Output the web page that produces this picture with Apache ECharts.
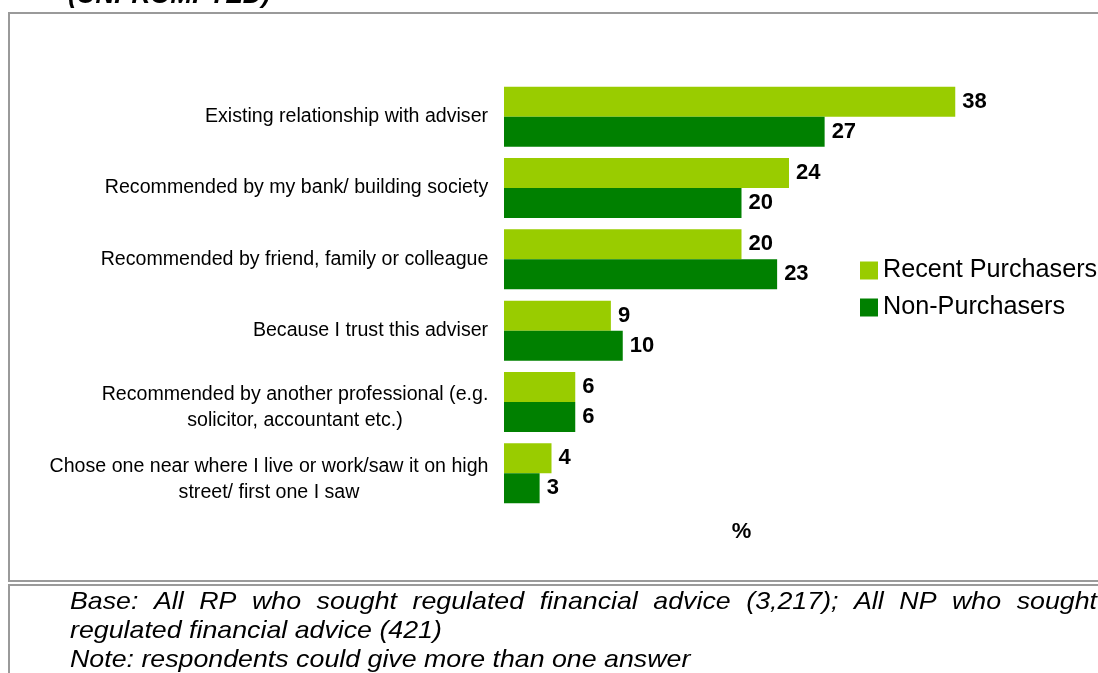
<!DOCTYPE html>
<html>
<head>
<meta charset="utf-8">
<script src="https://cdn.jsdelivr.net/npm/echarts@6/dist/echarts.min.js"></script>
<style>
  html, body { margin: 0; padding: 0; background: #ffffff; }
  #chart { width: 1098px; height: 673px; }
</style>
</head>
<body>
<div id="chart"></div>
<script>
// Reasons for choosing an adviser, % of respondents
const categories = [
  'Existing relationship with adviser',
  'Recommended by my bank/ building society',
  'Recommended by friend, family or colleague',
  'Because I trust this adviser',
  'Recommended by another professional (e.g.\nsolicitor, accountant etc.)',
  'Chose one near where I live or work/saw it on high\nstreet/ first one I saw'
];
const seriesNames = ['Recent Purchasers', 'Non-Purchasers'];
const recentPurchasers = [38, 24, 20, 9, 6, 4];
const nonPurchasers = [27, 20, 23, 10, 6, 3];

const titleText = '(UNPROMPTED)';
const footnoteLines = [
  'Base: All RP who sought regulated financial advice (3,217); All NP who sought',
  'regulated financial advice (421)',
  'Note: respondents could give more than one answer'
];

const FONT = '"Liberation Sans", Arial, sans-serif';
const LABEL_SIZE = 19.6;
const measureCtx = document.createElement('canvas').getContext('2d');
function textWidth(text, font) {
  measureCtx.font = font;
  return measureCtx.measureText(text).width;
}

// Each category label gets a fixed-width rich box so multi-line labels are
// centred line by line while the whole block stays right-aligned to the axis.
const labelRich = {
  // thin spacer line that nudges two-line labels slightly downward
  sp: { fontSize: 1, lineHeight: 12, color: 'rgba(0,0,0,0)' }
};
categories.forEach(function (c, i) {
  const w = Math.max.apply(null, c.split('\n').map(function (l) {
    return textWidth(l, LABEL_SIZE + 'px ' + FONT);
  }));
  labelRich['l' + i] = {
    width: Math.ceil(w) + 1,
    align: 'center',
    fontSize: LABEL_SIZE,
    fontFamily: FONT,
    color: '#000',
    lineHeight: 26
  };
});

// Footnote: first line justified across the box, the others left-aligned
const NOTE_SIZE = 24;
const NOTE_STRETCH = 1.115;
const noteFont = 'italic ' + NOTE_SIZE + 'px ' + FONT;
const noteLeft = 70, noteRight = 1097;
const noteTops = [590, 619, 648];
const noteGraphics = [];
(function () {
  const words = footnoteLines[0].split(' ');
  const widths = words.map(function (w) { return textWidth(w, noteFont) * NOTE_STRETCH; });
  const total = widths.reduce(function (a, b) { return a + b; }, 0);
  const gap = (noteRight - noteLeft - total) / (words.length - 1);
  let x = noteLeft;
  words.forEach(function (w, i) {
    noteGraphics.push({
      type: 'text', x: x, y: noteTops[0], scaleX: NOTE_STRETCH, silent: true,
      style: { text: w, font: noteFont, fill: '#000', verticalAlign: 'top' }
    });
    x += widths[i] + gap;
  });
  for (let k = 1; k < footnoteLines.length; k++) {
    noteGraphics.push({
      type: 'text', x: noteLeft, y: noteTops[k], scaleX: NOTE_STRETCH, silent: true,
      style: { text: footnoteLines[k], font: noteFont, fill: '#000', verticalAlign: 'top' }
    });
  }
})();

const chart = echarts.init(document.getElementById('chart'), null, { renderer: 'canvas' });

const valueLabel = {
  show: true,
  position: 'right',
  distance: 7,
  fontSize: 22,
  fontWeight: 'bold',
  fontFamily: FONT,
  color: '#000'
};

chart.setOption({
  animation: false,
  backgroundColor: '#ffffff',
  grid: { left: 504, right: 119, top: 81, bottom: 164, containLabel: false },
  legend: {
    data: seriesNames,
    orient: 'vertical',
    left: 860,
    top: 258,
    icon: 'rect',
    itemWidth: 18,
    itemHeight: 18,
    itemGap: 12,
    padding: 0,
    selectedMode: false,
    textStyle: { fontSize: 25.2, fontFamily: FONT, color: '#000' }
  },
  xAxis: {
    type: 'value',
    min: 0,
    max: 40,
    axisLine: { show: false },
    axisTick: { show: false },
    axisLabel: { show: false },
    splitLine: { show: false },
    name: '%',
    nameLocation: 'middle',
    nameGap: 12,
    nameTextStyle: { fontSize: 22, fontWeight: 'bold', fontFamily: FONT, color: '#000' }
  },
  yAxis: {
    type: 'category',
    data: categories,
    inverse: true,
    axisLine: { show: false },
    axisTick: { show: false },
    splitLine: { show: false },
    axisLabel: {
      margin: 15,
      interval: 0,
      formatter: function (value, index) {
        const lines = value.split('\n').map(function (l) { return '{l' + index + '|' + l + '}'; });
        return (lines.length > 1 ? '{sp| }\n' : '') + lines.join('\n');
      },
      rich: labelRich
    }
  },
  series: [
    {
      name: seriesNames[0],
      type: 'bar',
      data: recentPurchasers,
      itemStyle: { color: '#99cc00' },
      barGap: '0%',
      barCategoryGap: '16%',
      label: valueLabel
    },
    {
      name: seriesNames[1],
      type: 'bar',
      data: nonPurchasers,
      itemStyle: { color: '#008000' },
      barGap: '0%',
      barCategoryGap: '16%',
      label: valueLabel
    }
  ],
  graphic: [
    {
      type: 'rect', silent: true, z: -1,
      shape: { x: 9, y: 13, width: 1200, height: 568 },
      style: { fill: null, stroke: '#9a9a9a', lineWidth: 2 }
    },
    {
      type: 'rect', silent: true, z: -1,
      shape: { x: 9, y: 585, width: 1200, height: 200 },
      style: { fill: null, stroke: '#9a9a9a', lineWidth: 2 }
    },
    {
      type: 'text', x: 68, y: -17, silent: true,
      style: { text: titleText, font: 'italic bold 26px ' + FONT, fill: '#000', verticalAlign: 'top' }
    }
  ].concat(noteGraphics)
});
</script>
</body>
</html>
